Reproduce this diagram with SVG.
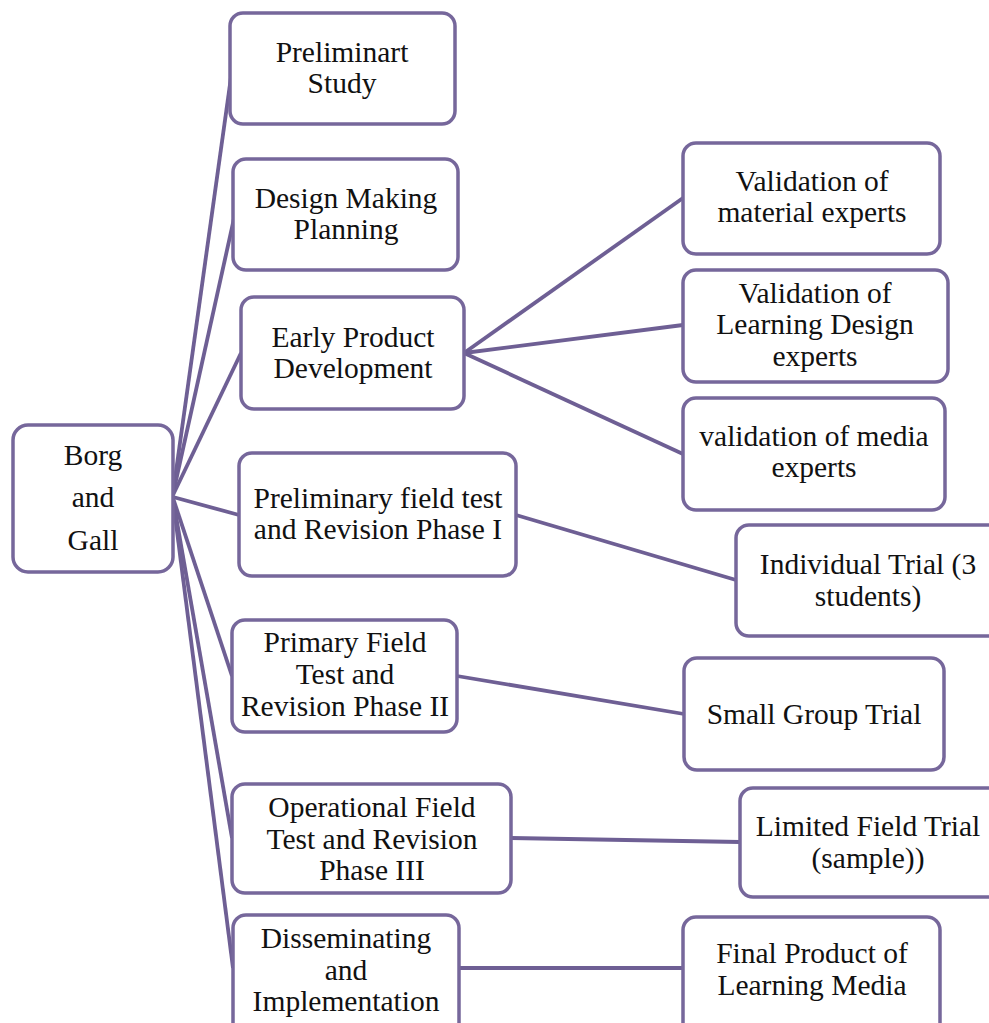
<svg xmlns="http://www.w3.org/2000/svg" width="989" height="1023" viewBox="0 0 989 1023">
<style>
.n{fill:#fff;stroke:#76679b;stroke-width:3.5}
.t{font-family:"Liberation Serif","Times New Roman",serif;font-size:29.5px;fill:#111;text-anchor:middle}
.c line{stroke:#6e5f94;stroke-width:3.8}
</style>
<rect width="989" height="1023" fill="#fff"/>
<g class="c" id="connectors">
<line x1="173" y1="493" x2="232" y2="70"/>
<line x1="173" y1="494" x2="235" y2="214"/>
<line x1="173" y1="495" x2="241" y2="353"/>
<line x1="173" y1="497" x2="239" y2="515"/>
<line x1="173" y1="498" x2="232" y2="676"/>
<line x1="173" y1="499" x2="232" y2="838"/>
<line x1="173" y1="500" x2="233" y2="968"/>
<line x1="464" y1="353" x2="683" y2="198"/>
<line x1="464" y1="353" x2="683" y2="325"/>
<line x1="464" y1="353" x2="683" y2="454"/>
<line x1="516" y1="515" x2="736" y2="580"/>
<line x1="457" y1="676" x2="684" y2="714"/>
<line x1="511" y1="838" x2="740" y2="842"/>
<line x1="459" y1="968" x2="683" y2="968"/>
</g>
<g id="borg"><rect class="n" x="13" y="425" width="160" height="147" rx="15"/>
<text class="t" x="93" y="465">Borg</text><text class="t" x="93" y="507">and</text><text class="t" x="93" y="550">Gall</text></g>
<g id="prelim-study"><rect class="n" x="230" y="13" width="225" height="111" rx="13"/>
<text class="t" x="342" y="62">Preliminart</text><text class="t" x="342" y="93">Study</text></g>
<g id="design"><rect class="n" x="233" y="159" width="225" height="111" rx="13"/>
<text class="t" x="346" y="208">Design Making</text><text class="t" x="346" y="239">Planning</text></g>
<g id="early"><rect class="n" x="241" y="297" width="223" height="112" rx="13"/>
<text class="t" x="353" y="347">Early Product</text><text class="t" x="353" y="378">Development</text></g>
<g id="prelim-field"><rect class="n" x="239" y="453" width="277" height="123" rx="13"/>
<text class="t" x="378" y="508">Preliminary field test</text><text class="t" x="378" y="539">and Revision Phase I</text></g>
<g id="primary"><rect class="n" x="232" y="620" width="225" height="112" rx="13"/>
<text class="t" x="345" y="652">Primary Field</text><text class="t" x="345" y="684">Test and</text><text class="t" x="345" y="716">Revision Phase II</text></g>
<g id="operational"><rect class="n" x="232" y="784" width="279" height="109" rx="13"/>
<text class="t" x="372" y="817">Operational Field</text><text class="t" x="372" y="849">Test and Revision</text><text class="t" x="372" y="880">Phase III</text></g>
<g id="dissem"><rect class="n" x="233" y="915" width="226" height="125" rx="13"/>
<text class="t" x="346" y="948">Disseminating</text><text class="t" x="346" y="980">and</text><text class="t" x="346" y="1011">Implementation</text></g>
<g id="val-material"><rect class="n" x="683" y="143" width="257" height="111" rx="13"/>
<text class="t" x="812" y="191">Validation of</text><text class="t" x="812" y="222">material experts</text></g>
<g id="val-learning"><rect class="n" x="683" y="270" width="265" height="112" rx="13"/>
<text class="t" x="815" y="303">Validation of</text><text class="t" x="815" y="334">Learning Design</text><text class="t" x="815" y="366">experts</text></g>
<g id="val-media"><rect class="n" x="683" y="398" width="262" height="112" rx="13"/>
<text class="t" x="814" y="446">validation of media</text><text class="t" x="814" y="477">experts</text></g>
<g id="individual"><rect class="n" x="736" y="525" width="270" height="111" rx="13"/>
<text class="t" x="868" y="574">Individual Trial (3</text><text class="t" x="868" y="606">students)</text></g>
<g id="small"><rect class="n" x="684" y="658" width="260" height="112" rx="13"/>
<text class="t" x="814" y="724">Small Group Trial</text></g>
<g id="limited"><rect class="n" x="740" y="788" width="270" height="109" rx="13"/>
<text class="t" x="868" y="836">Limited Field Trial</text><text class="t" x="868" y="868">(sample))</text></g>
<g id="final"><rect class="n" x="683" y="917" width="257" height="125" rx="13"/>
<text class="t" x="812" y="963">Final Product of</text><text class="t" x="812" y="995">Learning Media</text></g>
</svg>
